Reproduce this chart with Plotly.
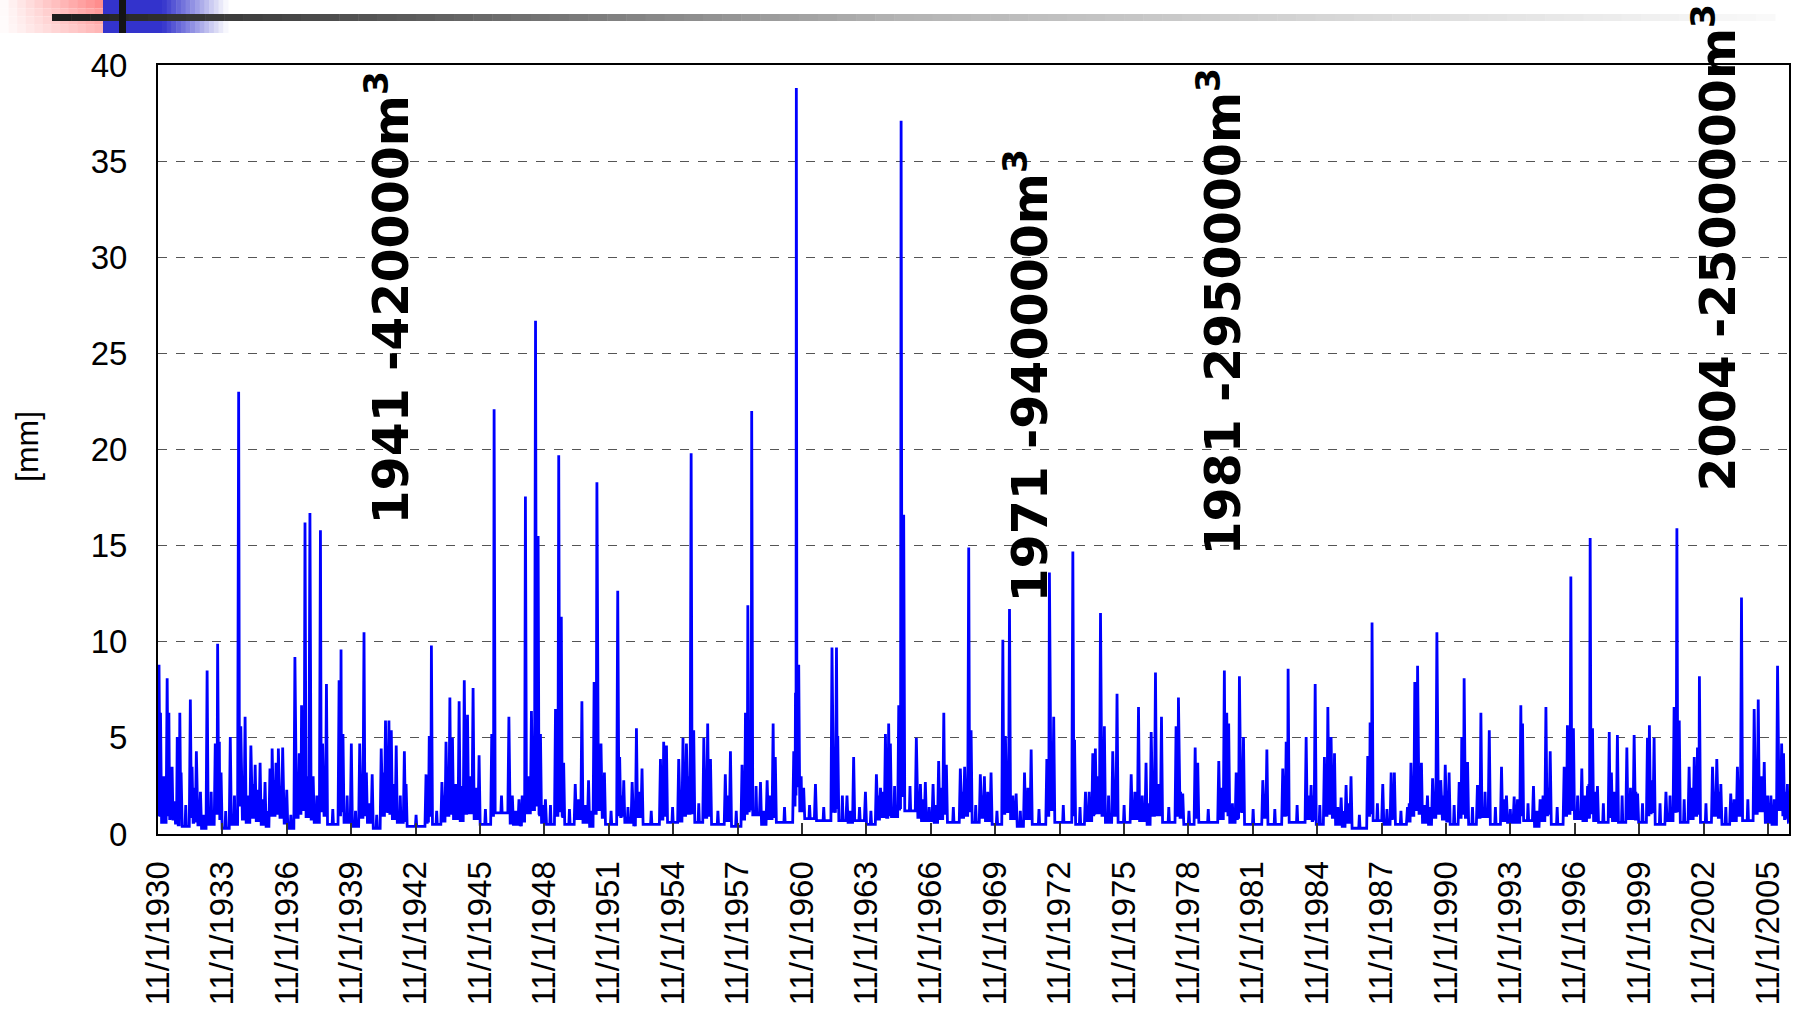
import numpy as np
import pandas as pd
import plotly.graph_objects as go

# ---------------- data ----------------
# yr_*: decimal calendar year of a visible spike, pk_*: spike height [mm]
# lo_*: base level the flow recedes to after that spike
# md_*: height of the minor fluctuation between that spike and the next one
yr_1930s = [1930.88, 1930.95, 1931.26, 1931.34, 1931.49, 1931.60, 1931.73, 1931.85, 1931.91, 1932.34,
            1932.42, 1932.62, 1932.81, 1933.12, 1933.50, 1933.61, 1933.69, 1933.77, 1934.20, 1934.59,
            1934.69, 1934.89, 1935.16, 1935.36, 1935.59, 1935.82, 1936.05, 1936.15, 1936.33, 1936.44,
            1936.64, 1936.83, 1937.21, 1937.41, 1937.52, 1937.68, 1937.91, 1938.06, 1938.40, 1938.50,
            1938.68, 1939.27, 1939.36, 1939.45, 1939.84]
pk_1930s = [8.8, 6.3, 8.1, 6.3, 3.5, 1.7, 5.05, 6.3, 3.2, 7.0,
            3.5, 4.3, 2.2, 8.5, 4.7, 9.9, 4.8, 3.2, 5.05, 23.0,
            5.6, 6.1, 4.6, 3.6, 3.7, 2.7, 3.4, 4.45, 3.7, 4.45,
            4.5, 2.3, 9.2, 4.2, 6.7, 16.2, 16.7, 3.0, 15.8, 4.7,
            7.8, 8.0, 9.6, 5.2, 4.7]
lo_1930s = [0.9, 0.6, 1.0, 0.8, 0.7, 0.5, 0.4, 0.9, 0.4, 0.9,
            0.6, 0.4, 0.3, 0.5, 1.0, 1.2, 0.8, 0.3, 0.5, 1.5,
            0.7, 0.6, 0.8, 0.7, 0.5, 0.4, 0.9, 0.9, 1.0, 0.8,
            0.5, 0.3, 0.8, 1.0, 1.2, 0.9, 0.7, 0.6, 1.2, 0.9,
            0.5, 1.0, 1.2, 0.6, 0.4]
md_1930s = [2.5, 3.0, 2.5, 2.0, 1.5, 1.2, 2.0, 2.2, 1.5, 2.5,
            2.4, 1.6, 1.0, 2.2, 2.8, 3.0, 2.0, 1.2, 2.0, 3.5,
            2.5, 2.0, 2.6, 2.3, 1.8, 1.2, 2.6, 2.8, 3.0, 2.5,
            1.5, 1.0, 3.0, 3.2, 3.5, 3.0, 2.2, 2.0, 3.0, 2.5,
            1.3, 2.5, 3.0, 2.0, 1.2]

yr_1940s = [1940.23, 1940.43, 1940.54, 1940.81, 1941.23, 1941.43, 1941.59, 1941.70, 1941.93, 1942.31,
            1942.39, 1943.32, 1943.47, 1943.57, 1944.06, 1944.25, 1944.43, 1944.55, 1944.86, 1945.10,
            1945.25, 1945.51, 1945.79, 1946.38, 1946.49, 1947.18, 1947.34, 1947.65, 1947.80, 1947.95,
            1948.23, 1948.42, 1948.54, 1948.65, 1948.88, 1949.35, 1949.50, 1949.62, 1949.73]
pk_1940s = [4.7, 10.5, 3.2, 3.1, 4.45, 5.9, 5.9, 5.4, 4.6, 4.3,
            2.6, 3.1, 5.1, 9.8, 2.7, 4.8, 7.1, 5.0, 6.9, 8.0,
            6.2, 7.6, 4.1, 5.2, 22.1, 6.1, 2.0, 1.8, 2.0, 17.55,
            6.4, 26.7, 15.5, 5.2, 1.8, 6.5, 19.7, 11.3, 3.7]
lo_1940s = [0.8, 1.0, 0.6, 0.3, 0.9, 1.1, 1.0, 0.8, 0.6, 0.7,
            0.4, 0.6, 0.9, 0.5, 0.6, 0.9, 1.0, 0.8, 0.7, 1.0,
            1.1, 0.8, 0.5, 0.9, 1.1, 0.5, 0.5, 0.4, 0.6, 1.1,
            1.2, 1.5, 1.0, 0.6, 0.5, 0.9, 1.2, 0.9, 0.5]
md_1940s = [2.5, 3.0, 1.6, 1.0, 3.2, 3.5, 3.2, 2.6, 2.0, 2.0,
            1.0, 2.0, 2.8, 1.2, 2.0, 3.0, 3.5, 2.6, 2.5, 3.5,
            3.0, 2.4, 1.3, 2.2, 2.0, 1.5, 1.2, 1.0, 1.4, 3.0,
            3.5, 4.0, 3.0, 1.5, 1.5, 2.8, 3.5, 2.5, 1.3]

yr_1950s = [1950.27, 1950.58, 1950.89, 1951.15, 1951.28, 1951.47, 1951.63, 1952.25, 1952.34, 1952.53,
            1952.92, 1953.12, 1953.38, 1954.24, 1954.39, 1954.52, 1955.09, 1955.29, 1955.45, 1955.67,
            1955.79, 1956.26, 1956.44, 1956.57, 1957.26, 1957.50, 1958.04, 1958.20, 1958.31, 1958.40,
            1958.49, 1958.90, 1959.21, 1959.49, 1959.59]
pk_1950s = [2.6, 6.9, 2.8, 7.9, 18.3, 4.7, 3.2, 12.65, 4.0, 2.8,
            2.7, 5.5, 3.4, 3.9, 4.8, 4.6, 3.9, 5.0, 4.7, 19.8,
            5.4, 5.0, 5.75, 3.9, 3.1, 4.3, 3.6, 6.3, 11.9, 4.8,
            22.0, 2.7, 2.8, 5.75, 4.0]
lo_1950s = [0.8, 0.6, 0.4, 1.0, 1.2, 0.8, 0.5, 1.0, 0.9, 0.6,
            0.4, 0.9, 0.5, 0.7, 0.9, 0.6, 0.6, 0.9, 1.0, 1.1,
            0.6, 0.8, 0.9, 0.5, 0.7, 0.4, 0.7, 1.0, 1.2, 1.3,
            1.0, 0.5, 0.8, 0.9, 0.6]
md_1950s = [1.8, 1.5, 1.2, 2.5, 3.0, 2.0, 1.2, 2.5, 2.0, 1.4,
            1.3, 2.2, 1.2, 2.4, 2.6, 1.4, 2.2, 2.6, 3.0, 3.0,
            1.6, 2.8, 2.5, 1.2, 2.0, 1.2, 2.4, 3.0, 3.5, 3.5,
            2.5, 1.2, 2.0, 2.6, 1.4]

yr_1960s = [1960.45, 1960.53, 1960.57, 1960.68, 1960.91, 1961.46, 1962.23, 1962.44, 1962.50, 1962.93,
            1963.24, 1963.79, 1964.30, 1964.49, 1964.72, 1964.87, 1964.95, 1965.34, 1965.45, 1965.57,
            1966.16, 1966.35, 1966.58, 1966.94, 1967.20, 1967.44, 1967.56, 1968.21, 1968.41, 1968.60,
            1968.71, 1969.14, 1969.33, 1969.64]
pk_1960s = [4.3, 7.35, 38.8, 8.8, 2.4, 2.6, 9.7, 9.7, 5.1, 2.0,
            4.0, 2.2, 3.1, 2.4, 5.2, 5.75, 4.7, 6.7, 37.1, 16.6,
            5.0, 2.6, 2.7, 2.6, 3.8, 6.3, 3.6, 3.4, 3.5, 14.9,
            5.4, 3.1, 3.0, 3.2]
lo_1960s = [1.5, 2.0, 2.5, 1.2, 0.8, 0.7, 1.1, 1.3, 0.7, 0.6,
            0.7, 0.5, 0.7, 0.9, 0.8, 1.0, 0.9, 1.3, 2.0, 1.2,
            0.8, 0.7, 0.7, 0.6, 0.8, 1.0, 0.6, 0.8, 0.9, 1.2,
            0.6, 0.8, 0.7, 0.5]
md_1960s = [3.0, 4.0, 5.0, 3.0, 1.5, 1.4, 3.5, 3.5, 2.0, 1.2,
            1.4, 1.2, 2.0, 2.2, 2.6, 2.8, 2.5, 3.5, 5.0, 2.5,
            2.0, 1.8, 1.4, 1.5, 2.4, 2.6, 1.4, 2.2, 2.6, 3.0,
            1.5, 2.0, 2.2, 1.2]

yr_1970s = [1970.19, 1970.31, 1970.50, 1970.81, 1971.20, 1971.51, 1972.24, 1972.36, 1972.56, 1973.45,
            1973.53, 1974.04, 1974.38, 1974.50, 1974.74, 1974.92, 1975.31, 1975.51, 1976.17, 1976.51,
            1976.86, 1977.10, 1977.30, 1977.58, 1978.26, 1978.37, 1978.57, 1979.15, 1979.27]
pk_1970s = [10.1, 5.1, 11.7, 2.1, 3.2, 4.4, 3.9, 13.6, 6.1, 14.7,
            4.9, 2.2, 4.2, 4.45, 11.5, 5.6, 4.3, 7.3, 3.1, 6.6,
            3.7, 5.3, 8.4, 6.1, 5.6, 7.1, 2.1, 4.5, 3.7]
lo_1970s = [1.0, 1.1, 0.8, 0.4, 0.8, 0.5, 0.9, 1.2, 0.6, 1.0,
            0.5, 0.7, 1.0, 1.1, 0.9, 0.6, 0.9, 0.6, 0.8, 0.7,
            0.5, 0.9, 1.0, 0.6, 0.9, 0.8, 0.5, 0.8, 0.6]
md_1970s = [3.0, 3.2, 2.0, 1.2, 2.4, 1.3, 2.6, 3.0, 1.5, 3.0,
            1.4, 2.2, 2.8, 3.0, 2.8, 2.0, 2.8, 1.5, 2.2, 2.0,
            1.6, 2.8, 2.6, 1.4, 2.8, 2.2, 1.2, 2.2, 1.3]

yr_1980s = [1980.25, 1980.51, 1980.62, 1980.71, 1981.06, 1981.21, 1981.40, 1982.30, 1982.49, 1983.23,
            1983.39, 1983.48, 1984.32, 1984.55, 1984.74, 1985.17, 1985.33, 1985.48, 1985.64, 1985.95,
            1986.18, 1986.41, 1987.19, 1987.30, 1987.39, 1987.89, 1988.28, 1988.43, 1989.04, 1989.20,
            1989.38, 1989.51, 1989.69, 1989.97]
pk_1980s = [3.8, 8.5, 6.3, 5.75, 3.2, 8.2, 5.05, 2.8, 4.4, 3.4,
            4.8, 8.6, 5.05, 2.55, 7.8, 4.0, 6.6, 5.05, 4.2, 1.9,
            2.55, 3.0, 4.05, 5.8, 11.0, 2.6, 3.2, 3.2, 1.4, 3.7,
            7.9, 8.75, 3.7, 2.0]
lo_1980s = [0.8, 1.2, 1.0, 0.6, 0.8, 1.1, 0.5, 0.8, 0.5, 0.9,
            1.0, 0.6, 0.8, 0.7, 0.5, 0.9, 1.0, 0.8, 0.5, 0.4,
            0.6, 0.3, 0.9, 1.1, 0.7, 0.5, 0.8, 0.5, 0.6, 0.9,
            1.2, 1.0, 0.6, 0.5]
md_1980s = [2.4, 3.0, 2.8, 1.6, 2.2, 2.8, 1.3, 2.0, 1.3, 2.2,
            2.8, 1.5, 2.0, 2.0, 1.5, 2.6, 2.8, 2.4, 1.4, 1.2,
            1.6, 1.0, 2.4, 2.8, 1.6, 1.3, 2.0, 1.2, 1.6, 2.6,
            3.0, 2.6, 1.5, 1.4]

yr_1990s = [1990.21, 1990.41, 1990.59, 1990.80, 1990.98, 1991.45, 1991.57, 1991.68, 1991.84, 1992.30,
            1992.46, 1992.85, 1993.42, 1993.65, 1994.01, 1994.32, 1994.40, 1994.91, 1995.22, 1995.49,
            1995.69, 1996.34, 1996.49, 1996.65, 1996.77, 1997.16, 1997.43, 1997.55, 1997.66, 1997.89,
            1998.44, 1998.54, 1998.82, 1999.26, 1999.60, 1999.76]
pk_1990s = [2.9, 10.5, 2.8, 3.6, 3.2, 2.7, 5.05, 8.1, 3.75, 2.55,
            6.3, 5.4, 3.5, 2.0, 1.95, 6.7, 5.75, 2.5, 1.8, 6.6,
            4.3, 3.5, 5.65, 13.4, 5.5, 3.4, 2.5, 15.4, 5.5, 2.5,
            5.3, 3.2, 5.15, 4.5, 5.15, 2.1]
lo_1990s = [0.8, 1.0, 0.7, 0.6, 0.5, 0.8, 1.0, 0.8, 0.5, 0.8,
            0.9, 0.5, 0.7, 0.6, 0.6, 1.0, 0.7, 0.4, 0.7, 1.0,
            0.5, 0.9, 1.0, 1.2, 0.8, 0.7, 0.8, 1.1, 0.7, 0.6,
            0.9, 0.7, 0.6, 0.8, 0.7, 0.6]
md_1990s = [2.2, 2.6, 2.0, 1.8, 1.5, 2.4, 2.8, 2.4, 1.4, 2.2,
            2.2, 1.4, 1.8, 1.3, 1.8, 2.8, 1.6, 1.2, 2.0, 2.4,
            1.4, 2.4, 3.0, 3.2, 2.0, 2.0, 2.6, 3.2, 2.2, 1.6,
            2.4, 2.2, 2.0, 2.4, 2.2, 1.6]

yr_2000s = [2000.22, 2000.31, 2000.53, 2001.08, 2001.46, 2001.59, 2001.70, 2002.16, 2002.40, 2002.55,
            2002.64, 2003.25, 2003.45, 2003.64, 2004.10, 2004.41, 2004.60, 2005.19, 2005.38, 2005.66,
            2005.97, 2006.28, 2006.47, 2006.56, 2006.74]
pk_2000s = [5.0, 5.65, 5.0, 2.2, 6.6, 15.9, 5.9, 3.5, 4.0, 4.5,
            8.2, 3.5, 3.9, 2.6, 2.1, 3.5, 12.3, 6.5, 7.0, 3.75,
            2.0, 8.75, 4.7, 4.2, 2.6]
lo_2000s = [1.0, 1.1, 0.5, 0.7, 1.1, 1.2, 0.6, 0.8, 0.9, 1.0,
            0.6, 0.9, 0.8, 0.5, 0.7, 0.9, 0.7, 1.0, 1.2, 0.6,
            0.5, 1.2, 1.0, 0.8, 0.6]
md_2000s = [2.8, 2.8, 1.6, 2.0, 3.0, 3.2, 1.8, 2.4, 2.6, 3.0,
            1.6, 2.2, 2.2, 1.4, 1.8, 2.4, 1.8, 3.0, 3.0, 2.0,
            1.8, 3.0, 2.8, 2.2, 1.2]

start_year, start_mm = 1930.834, 1.0
end_year, end_mm = 2006.80, 0.6

tick_years = list(range(1930, 2006, 3))
tick_labels = [f"11/1/{y}" for y in tick_years]

notes = ["1941 -420000m<sup>3</sup>", "1971 -940000m<sup>3</sup>",
         "1981 -2950000m<sup>3</sup>", "2004 -2500000m<sup>3</sup>"]

# ---------------- build series ----------------
years = yr_1930s + yr_1940s + yr_1950s + yr_1960s + yr_1970s + yr_1980s + yr_1990s + yr_2000s
peaks = pk_1930s + pk_1940s + pk_1950s + pk_1960s + pk_1970s + pk_1980s + pk_1990s + pk_2000s
lows = lo_1930s + lo_1940s + lo_1950s + lo_1960s + lo_1970s + lo_1980s + lo_1990s + lo_2000s
mids = md_1930s + md_1940s + md_1950s + md_1960s + md_1970s + md_1980s + md_1990s + md_2000s


def to_date(y):
    yi = int(np.floor(y))
    a = pd.Timestamp(year=yi, month=1, day=1)
    b = pd.Timestamp(year=yi + 1, month=1, day=1)
    return a + (b - a) * (y - yi)


px_t, px_v = [start_year], [start_mm]
g0 = years[0] - start_year
px_t += [years[0] - min(g0 * 0.25, 0.05)]
px_v += [start_mm]
n = len(years)
for i in range(n):
    y, p, lo, md = years[i], peaks[i], lows[i], mids[i]
    nxt = years[i + 1] if i + 1 < n else end_year
    g = nxt - y
    r = min(g * 0.25, 0.05)
    w = min(g * 0.12, 0.03)
    c = (y + nxt) / 2
    px_t += [y, y + r, c - w, c, c + w, nxt - r]
    px_v += [p, lo, lo, md, lo, lo]
px_t.append(end_year)
px_v.append(end_mm)

x_dates = [to_date(t) for t in px_t]

# ---------------- figure ----------------
L, R, T, B = 158, 11, 65, 183
W, H = 1800, 1017
PW, PH = W - L - R, H - T - B


def xp(px):
    return (px - L) / PW


def yp(py):
    return (H - B - py) / PH


fig = go.Figure()
fig.add_trace(go.Scatter(x=x_dates, y=px_v, mode="lines",
                         line=dict(color="#0000ff", width=2.8), hoverinfo="skip"))

shapes = []
# red gradient block
nx, ny = 12, 4
for i in range(nx):
    for j in range(ny):
        fx = (i + 0.5) / nx
        fy = (j + 0.5) / ny
        s = max(0.0, min(1.0, fx * (1 - 0.45 * fy)))
        g = int(255 - (255 - 130) * s)
        shapes.append(dict(type="rect", xref="paper", yref="paper",
                           x0=xp(103 * i / nx), x1=xp(103 * (i + 1) / nx + 0.5),
                           y0=yp(33 * (j + 1) / ny), y1=yp(33 * j / ny),
                           fillcolor=f"rgb(255,{g},{g})", line=dict(width=0)))
# blue block
shapes.append(dict(type="rect", xref="paper", yref="paper", x0=xp(103), x1=xp(162),
                   y0=yp(33), y1=yp(0), fillcolor="rgb(51,51,204)", line=dict(width=0)))
nb = 14
for i in range(nb):
    s = (i + 0.5) / nb
    rr = int(51 + (255 - 51) * s)
    bb = int(204 + (255 - 204) * s)
    shapes.append(dict(type="rect", xref="paper", yref="paper",
                       x0=xp(162 + 66 * i / nb), x1=xp(162 + 66 * (i + 1) / nb + 0.5),
                       y0=yp(33), y1=yp(0), fillcolor=f"rgb({rr},{rr},{bb})", line=dict(width=0)))
# gradient horizontal bar
nl = 90
x_start, x_end = 52, 1775
for i in range(nl):
    xa = x_start + (x_end - x_start) * i / nl
    xb = x_start + (x_end - x_start) * (i + 1) / nl
    xm = (xa + xb) / 2
    if xm < 900:
        c = 28 + (180 - 28) * (xm - x_start) / (900 - x_start)
    else:
        c = 180 + (250 - 180) * (xm - 900) / (x_end - 900)
    c = int(c)
    shapes.append(dict(type="rect", xref="paper", yref="paper", x0=xp(xa), x1=xp(xb + 0.5),
                       y0=yp(21), y1=yp(14), fillcolor=f"rgb({c},{c},{c})", line=dict(width=0)))
# black vertical mark
shapes.append(dict(type="rect", xref="paper", yref="paper", x0=xp(119), x1=xp(126),
                   y0=yp(33), y1=yp(0), fillcolor="rgb(20,20,20)", line=dict(width=0)))

note_pos = [(388, 527), (1027, 605), (1220, 558), (1715, 494)]
annotations = []
for txt, (cx, by) in zip(notes, note_pos):
    annotations.append(dict(text=txt, xref="paper", yref="paper", x=xp(cx), y=yp(by),
                            xanchor="center", yanchor="bottom", textangle=-90, showarrow=False,
                            font=dict(family="DejaVu Sans", size=49, color="black", weight="bold")))
annotations.append(dict(text="[mm]", xref="paper", yref="paper", x=xp(27), y=yp(447),
                        xanchor="center", yanchor="middle", textangle=-90, showarrow=False,
                        font=dict(family="Liberation Sans, Arial", size=32, color="black")))

fig.update_layout(
    width=W, height=H, margin=dict(l=L, r=R, t=T, b=B, autoexpand=False),
    plot_bgcolor="white", paper_bgcolor="white", showlegend=False,
    font=dict(family="Liberation Sans, Arial, sans-serif", size=33, color="black"),
    shapes=shapes, annotations=annotations,
)
fig.update_xaxes(type="date", range=["1930-11-01", "2006-10-25"],
                 tickvals=[f"{y}-11-01" for y in tick_years], ticktext=tick_labels,
                 tickangle=-90, ticks="inside", ticklen=11, tickwidth=1.5, tickcolor="#333333",
                 showline=True, linecolor="black", linewidth=2, mirror=True,
                 showgrid=False, zeroline=False, tickfont=dict(size=33), ticklabelstandoff=12)
fig.update_yaxes(range=[0, 40], tick0=0, dtick=5, showgrid=True, gridcolor="#555555",
                 griddash="dash", gridwidth=1.3, showline=True, linecolor="black", linewidth=2,
                 mirror=True, zeroline=False, ticks="", tickfont=dict(size=33), ticklabelstandoff=22)

fig.write_html("out.html")
